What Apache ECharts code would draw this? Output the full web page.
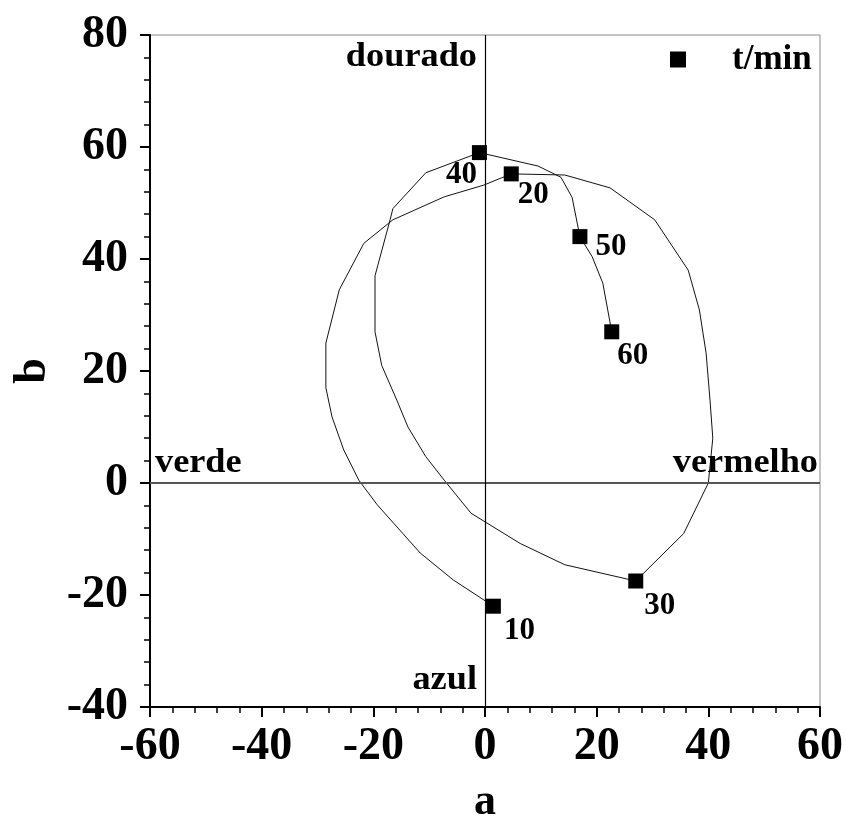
<!DOCTYPE html>
<html><head><meta charset="utf-8">
<script src="https://cdn.jsdelivr.net/npm/echarts@6/dist/echarts.min.js"></script>
<style>html,body{margin:0;padding:0;background:#fff}#c{width:846px;height:818px}</style>
</head><body><div id="c"></div>
<script>
// Path of the colour coordinates (a, b)
const pathA = [1.5, -5.7, -11.6, -19.3, -22.6, -25.3, -27.4, -28.5, -28.5, -26.1, -21.7, -16.5, -7.3, -0.2, 4.7, 14.3, 22.4, 30.4, 36.4, 38.4, 39.6, 40.3, 40.8, 40.0, 35.6, 27.0, 14.3, 6.3, -2.5, -7.3, -10.6, -13.8, -15.8, -18.5, -19.7, -19.7, -17.0, -16.5, -10.6, -1.0, 9.5, 13.6, 15.6, 17.0, 19.2, 21.1, 22.7];
const pathB = [-22.0, -17.3, -12.5, -3.9, 0.5, 5.9, 11.8, 17.0, 25.0, 34.5, 42.8, 47.0, 51.1, 53.2, 55.2, 55.0, 52.7, 47.0, 38.0, 30.9, 23.2, 14.8, 8.0, 0.0, -9.0, -17.5, -14.6, -10.8, -5.4, 0.5, 4.7, 10.0, 14.8, 21.0, 27.0, 37.0, 47.0, 49.0, 55.4, 59.0, 56.6, 54.6, 51.0, 44.0, 40.4, 35.7, 27.0];
// Marked times
const timeLabels = ['10', '20', '30', '40', '50', '60'];
const timeA = [1.5, 4.7, 27.0, -1.0, 17.0, 22.7];
const timeB = [-22.0, 55.2, -17.5, 59.0, 44.0, 27.0];
const xTicks = [-60, -40, -20, 0, 20, 40, 60];
const yTicks = [-40, -20, 0, 20, 40, 60, 80];
const seriesName = 't/min';
const regionNames = ['dourado', 'verde', 'vermelho', 'azul'];

const labelOffsets = [[26, 25], [22, 21], [24, 25], [-18, 22], [31, 10], [21, 24]];
const font = '"Liberation Serif", "Times New Roman", serif';

const chart = echarts.init(document.getElementById('c'), null, {renderer: 'canvas'});
const regionText = (txt, x, y, align) => ({
  type: 'text', x: x, y: y, scaleX: 1.1, z: 10,
  style: {text: txt, font: 'bold 33px ' + font, fill: '#000', textAlign: align, textVerticalAlign: 'bottom'}
});
chart.setOption({
  animation: false,
  grid: {left: 150, right: 26, top: 35, bottom: 111, show: true, borderColor: '#8a8a8a', borderWidth: 1,
    containLabel: false, outerBoundsMode: 'none'},
  legend: {
    left: 665, top: 37, itemWidth: 16, itemHeight: 16, itemGap: 0,
    data: [{name: seriesName, icon: 'rect', itemStyle: {color: '#000', opacity: 1}}],
    textStyle: {fontFamily: font, fontWeight: 'bold', fontSize: 35, color: '#000', padding: [0, 0, 0, 41]}
  },
  xAxis: {
    type: 'value', min: xTicks[0], max: xTicks[xTicks.length - 1], interval: 20,
    name: 'a', nameLocation: 'middle', nameGap: 74,
    nameTextStyle: {fontFamily: font, fontWeight: 'bold', fontSize: 44, color: '#000'},
    axisLine: {show: true, onZero: false, lineStyle: {color: '#000', width: 2}},
    axisTick: {show: true, inside: false, length: 10, lineStyle: {color: '#000', width: 2}},
    minorTick: {show: true, splitNumber: 5, length: 6, lineStyle: {color: '#000', width: 1.5}},
    axisLabel: {fontFamily: font, fontWeight: 'bold', fontSize: 46, color: '#000', margin: 17},
    splitLine: {show: false}
  },
  yAxis: {
    type: 'value', min: yTicks[0], max: yTicks[yTicks.length - 1], interval: 20,
    name: 'b', nameLocation: 'middle', nameGap: 94, nameRotate: 90,
    nameTextStyle: {fontFamily: font, fontWeight: 'bold', fontSize: 46, color: '#000'},
    axisLine: {show: true, onZero: false, lineStyle: {color: '#000', width: 2}},
    axisTick: {show: true, inside: false, length: 10, lineStyle: {color: '#000', width: 2}},
    minorTick: {show: true, splitNumber: 5, length: 6, lineStyle: {color: '#000', width: 1.5}},
    axisLabel: {fontFamily: font, fontWeight: 'bold', fontSize: 46, color: '#000', margin: 22},
    splitLine: {show: false}
  },
  series: [
    {
      type: 'line', name: 'path', data: pathA.map((a, i) => [a, pathB[i]]),
      showSymbol: false, symbol: 'none', smooth: false,
      lineStyle: {color: '#111', width: 1},
      markLine: {
        silent: true, symbol: 'none', label: {show: false},
        data: [
          {yAxis: 0, lineStyle: {color: '#555', width: 2, type: 'solid'}},
          {xAxis: 0, lineStyle: {color: '#000', width: 1.2, type: 'solid'}}
        ]
      },
      z: 2
    },
    {
      type: 'scatter', name: seriesName, symbol: 'rect', symbolSize: 15,
      itemStyle: {color: '#000', opacity: 1},
      data: timeA.map((a, i) => ({
        value: [a, timeB[i]],
        label: {show: true, formatter: timeLabels[i], position: 'inside', offset: labelOffsets[i],
          fontFamily: font, fontWeight: 'bold', fontSize: 31, color: '#000', opacity: 1}
      })),
      z: 3
    }
  ],
  graphic: [
    regionText(regionNames[0], 477, 74, 'right'),
    regionText(regionNames[1], 155, 480, 'left'),
    regionText(regionNames[2], 818, 480, 'right'),
    regionText(regionNames[3], 477, 697, 'right')
  ]
});
</script></body></html>
